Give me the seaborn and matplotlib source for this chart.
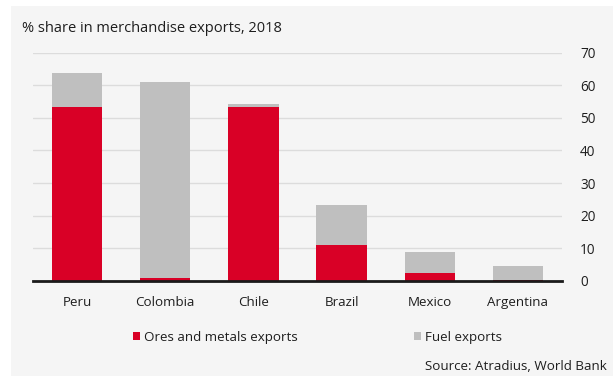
import matplotlib
matplotlib.use("Agg")
import matplotlib.pyplot as plt
import seaborn as sns
import pandas as pd
from matplotlib.patches import Patch, Rectangle

countries = ["Peru", "Colombia", "Chile", "Brazil", "Mexico", "Argentina"]
ores_metals = [53.3, 0.8, 53.3, 11.0, 2.5, 0.4]
fuel = [10.4, 60.1, 0.9, 12.3, 6.5, 4.1]
y_ticks = [0, 10, 20, 30, 40, 50, 60, 70]

RED = "#d90026"
GREY = "#bfbfbf"
BG = "#f5f5f5"
TXT = "#1e1e1e"

sns.set_theme(style="white")
plt.rcParams["font.family"] = ["Open Sans", "DejaVu Sans"]

df = pd.DataFrame({"country": countries, "ores": ores_metals, "fuel": fuel})
df["total"] = df["ores"] + df["fuel"]

fig = plt.figure(figsize=(6.13, 3.76), dpi=100)
fig.patch.set_facecolor("white")
# light panel behind the chart
fig.patches.append(Rectangle((11 / 613, 0), 1, 1 - 6 / 376, transform=fig.transFigure,
                             facecolor=BG, edgecolor="none", zorder=-10))

ax = fig.add_axes([33 / 613, 95 / 376, 529 / 613, 228.5 / 376])
ax.patch.set_alpha(0)

sns.barplot(data=df, x="country", y="total", color=GREY, width=0.57,
            saturation=1, linewidth=0, edgecolor="none", ax=ax, zorder=2)
sns.barplot(data=df, x="country", y="ores", color=RED, width=0.57,
            saturation=1, linewidth=0, edgecolor="none", ax=ax, zorder=3)

ax.set_ylim(0, 70)
ax.set_xlim(-0.5, len(countries) - 0.5)
ax.set_yticks(y_ticks)
ax.yaxis.tick_right()
ax.tick_params(axis="y", length=0, pad=13, labelsize=9.8, colors=TXT)
ax.tick_params(axis="x", length=0, pad=11, labelsize=9.6, colors=TXT)
ax.grid(axis="y", color="#dcdcdc", linewidth=1, zorder=0)
ax.set_axisbelow(True)
for s in ["top", "left", "right"]:
    ax.spines[s].set_visible(False)
ax.spines["bottom"].set_color("#1a1a1a")
ax.spines["bottom"].set_linewidth(2)
ax.spines["bottom"].set_zorder(5)
ax.set_xlabel("")
ax.set_ylabel("")

fig.text(22 / 613, 1 - 28 / 376, "% share in merchandise exports, 2018",
         fontsize=10.5, color=TXT, va="center", ha="left")

handles = [Patch(facecolor=RED, edgecolor="none", label="Ores and metals exports"),
           Patch(facecolor=GREY, edgecolor="none", label="Fuel exports")]
fig.legend(handles=handles, ncol=2, loc="center left",
           bbox_to_anchor=(133 / 613, 1 - 337 / 376), frameon=False,
           borderpad=0, borderaxespad=0,
           fontsize=9.6, handlelength=0.55, handleheight=0.55,
           handletextpad=0.3, columnspacing=8.7, labelcolor=TXT)

fig.text(607 / 613, 1 - 366 / 376, "Source: Atradius, World Bank",
         fontsize=9.6, color=TXT, va="center", ha="right")

fig.savefig("out.png", dpi=100, facecolor=fig.get_facecolor())
